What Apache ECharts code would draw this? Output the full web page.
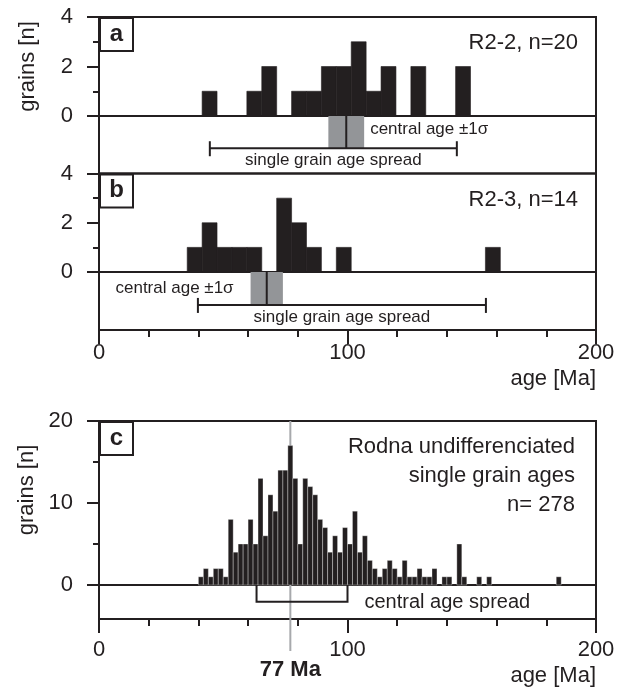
<!DOCTYPE html>
<html>
<head>
<meta charset="utf-8">
<script src="https://cdn.jsdelivr.net/npm/echarts@6/dist/echarts.min.js"></script>
<style>
html, body { margin: 0; padding: 0; background: #fff; }
#main { width: 624px; height: 689px; }
</style>
</head>
<body>
<div id="main"></div>
<script>
// panel a: R2-2, 6 Ma bins (bin start, grains)
const aBinStart = [41.5, 59.5, 65.5, 77.5, 83.5, 89.5, 95.5, 101.5, 107.5, 113.5, 125.5, 143.5]
const aCount = [1, 1, 2, 1, 1, 2, 2, 3, 1, 2, 2, 2]
const aCentral = [99.5, 7.2]      // central age, 1 sigma
const aSpread = [44.6, 144]

// panel b: R2-3
const bBinStart = [35.5, 41.5, 47.5, 53.5, 59.5, 71.5, 77.5, 83.5, 95.5, 155.5]
const bCount = [1, 2, 1, 1, 1, 3, 2, 1, 1, 1]
const bCentral = [67.5, 6.5]
const bSpread = [39.8, 155.7]

// panel c: Rodna undifferenciated, 2 Ma bins starting at 40 Ma
const cFirstBin = 40
const cBinWidth = 2
const cCount = [
  1, 2, 1, 2, 2, 1, 8, 4, 5, 5, 8, 5, 13, 6, 11, 9, 14, 14,
  17, 13, 5, 13, 12, 11, 8, 7, 4, 6, 4, 7, 5, 9, 4, 6, 3, 2,
  1, 2, 3, 2, 1, 3, 1, 1, 2, 1, 1, 2, 0, 1, 1, 0, 5, 1,
  0, 0, 1, 0, 1, 0, 0, 0, 0, 0, 0, 0, 0, 0, 0, 0, 0, 0, 1
]
const cCentral = 77
const cSpread = [63.4, 100]

// ticks
const xTicks = [0, 100, 200]
const abYTicks = [0, 2, 4]
const cYTicks = [0, 10, 20]

const ink = '#231f20'
const grey = '#939598'
const font = '"Liberation Sans", Arial, sans-serif'

const chart = echarts.init(document.getElementById('main'))

// grid layout: histogram part + annotation part for each panel
const gridBoxes = [
  { top: 17, height: 99 },
  { top: 116, height: 57.5 },
  { top: 173.5, height: 98.5 },
  { top: 272, height: 58 },
  { top: 421, height: 164 },
  { top: 585, height: 34 }
]
const grid = gridBoxes.map(g => ({
  ...g, left: 99, right: 28, show: true,
  borderColor: ink, borderWidth: 2, backgroundColor: 'transparent'
}))

const xAxis = grid.map((g, i) => {
  const shown = i === 3 || i === 5
  return {
    type: 'value', gridIndex: i,
    min: xTicks[0], max: xTicks[xTicks.length - 1], interval: xTicks[1] - xTicks[0],
    show: shown,
    axisLine: { show: true, onZero: false, lineStyle: { color: ink, width: 2 } },
    axisTick: { show: true, length: 14, lineStyle: { color: ink, width: 2 } },
    minorTick: { show: true, splitNumber: 5, length: 7, lineStyle: { color: ink, width: 2 } },
    splitLine: { show: false },
    axisLabel: { fontSize: 22, color: ink, margin: i === 3 ? 12 : 20, fontFamily: font },
    name: shown ? 'age [Ma]' : '',
    nameLocation: 'end', nameGap: 0,
    nameTextStyle: {
      fontSize: 22, color: ink, fontFamily: font, align: 'right', verticalAlign: 'top',
      padding: [i === 3 ? 38 : 46, 0, 0, 0]
    }
  }
})

function countAxis(gi, ticks) {
  return {
    type: 'value', gridIndex: gi,
    min: ticks[0], max: ticks[ticks.length - 1], interval: ticks[1] - ticks[0],
    axisLine: { show: true, lineStyle: { color: ink, width: 2 } },
    axisTick: { show: true, length: 12, lineStyle: { color: ink, width: 2 } },
    minorTick: { show: true, splitNumber: 2, length: 6, lineStyle: { color: ink, width: 2 } },
    splitLine: { show: false },
    axisLabel: { fontSize: 22, color: ink, margin: 26, fontFamily: font },
    name: gi === 2 ? '' : 'grains [n]',
    nameLocation: 'middle', nameGap: 60, nameRotate: 90,
    nameTextStyle: { fontSize: 22, color: ink, fontFamily: font, padding: gi === 4 ? [0, 0, 0, 26] : 0 }
  }
}
const yAxis = [
  countAxis(0, abYTicks),
  { type: 'value', gridIndex: 1, min: -2.32, max: 0, show: false },
  countAxis(2, abYTicks),
  { type: 'value', gridIndex: 3, min: -2.36, max: 0, show: false },
  countAxis(4, cYTicks),
  { type: 'value', gridIndex: 5, min: -4.15, max: 0, show: false }
]

// histogram bars drawn through the axis scales
function histSeries(gi, starts, counts, width, style) {
  const data = []
  starts.forEach((s, i) => { if (counts[i] > 0) data.push([s, s + width, counts[i]]) })
  return {
    type: 'custom', xAxisIndex: gi, yAxisIndex: gi, z: 3, data,
    renderItem: (params, api) => {
      const p0 = api.coord([api.value(0), api.value(2)])
      const p1 = api.coord([api.value(1), 0])
      return { type: 'rect', shape: { x: p0[0], y: p0[1], width: p1[0] - p0[0], height: p1[1] - p0[1] }, style }
    }
  }
}

// central age band + single grain age spread (panels a, b)
function centralSeries(gi, central, spread, lineY, labelSide) {
  return {
    type: 'custom', xAxisIndex: gi, yAxisIndex: gi, z: 3,
    data: [[central[0], central[1], spread[0], spread[1]]],
    renderItem: (params, api) => {
      const c = api.value(0), s = api.value(1)
      const top = api.coord([c - s, 0])
      const bot = api.coord([c + s, lineY])
      const mid = api.coord([c, 0])
      const l = api.coord([api.value(2), lineY])
      const r = api.coord([api.value(3), lineY])
      const ls = { stroke: ink, lineWidth: 2 }
      const tf = '17px ' + font
      return {
        type: 'group', children: [
          { type: 'rect', shape: { x: top[0], y: top[1], width: bot[0] - top[0], height: bot[1] - top[1] }, style: { fill: grey } },
          { type: 'line', shape: { x1: mid[0], y1: top[1], x2: mid[0], y2: bot[1] }, style: ls },
          { type: 'line', shape: { x1: l[0], y1: l[1], x2: r[0], y2: r[1] }, style: ls },
          { type: 'line', shape: { x1: l[0], y1: l[1] - 7, x2: l[0], y2: l[1] + 8 }, style: ls },
          { type: 'line', shape: { x1: r[0], y1: r[1] - 7, x2: r[0], y2: r[1] + 8 }, style: ls },
          {
            type: 'text',
            x: labelSide === 'right' ? bot[0] + 6 : top[0] - 17,
            y: top[1] + (labelSide === 'right' ? 13 : 16),
            style: { text: 'central age \u00b11\u03c3', font: tf, fill: ink, align: labelSide === 'right' ? 'left' : 'right', verticalAlign: 'middle' }
          },
          {
            type: 'text', x: (l[0] + r[0]) / 2, y: l[1] + 12,
            style: { text: 'single grain age spread', font: tf, fill: ink, align: 'center', verticalAlign: 'middle' }
          }
        ]
      }
    }
  }
}

// central age spread bracket (panel c)
const cSpreadSeries = {
  type: 'custom', xAxisIndex: 5, yAxisIndex: 5, z: 3,
  data: [[cSpread[0], cSpread[1]]],
  renderItem: (params, api) => {
    const a0 = api.coord([api.value(0), 0])
    const a1 = api.coord([api.value(0), -2.04])
    const b1 = api.coord([api.value(1), -2.04])
    const b0 = api.coord([api.value(1), 0])
    return {
      type: 'group', children: [
        { type: 'polyline', shape: { points: [a0, a1, b1, b0] }, style: { stroke: ink, lineWidth: 2, fill: null } },
        { type: 'text', x: b1[0] + 17, y: b1[1] + 1, style: { text: 'central age spread', font: '20px ' + font, fill: ink, align: 'left', verticalAlign: 'middle' } }
      ]
    }
  }
}

// 77 Ma central age line (panel c)
const cCentralSeries = {
  type: 'custom', xAxisIndex: 4, yAxisIndex: 4, z: 2, clip: false,
  data: [[cCentral]],
  renderItem: (params, api) => {
    const t = api.coord([api.value(0), cYTicks[cYTicks.length - 1]])
    const z = api.coord([api.value(0), 0])
    return {
      type: 'group', children: [
        { type: 'line', shape: { x1: t[0], y1: t[1], x2: t[0], y2: z[1] + 66 }, style: { stroke: '#a7a9ac', lineWidth: 2 } },
        { type: 'text', x: t[0], y: z[1] + 85, style: { text: cCentral + ' Ma', font: 'bold 22px ' + font, fill: ink, align: 'center', verticalAlign: 'middle' } }
      ]
    }
  }
}

const cBinStart = cCount.map((v, i) => cFirstBin + i * cBinWidth)

function panelBox(letter, top) {
  return {
    type: 'group', left: 99, top: top, children: [
      { type: 'rect', shape: { x: 0, y: 0, width: 33, height: 33 }, style: { fill: '#fff', stroke: ink, lineWidth: 2 } },
      { type: 'text', x: 16.5, y: 16, style: { text: letter, font: 'bold 24px ' + font, fill: ink, align: 'center', verticalAlign: 'middle' } }
    ]
  }
}

function rightText(text, x, y) {
  return { type: 'text', x: x, y: y, style: { text, font: '22px ' + font, fill: ink, align: 'right', verticalAlign: 'middle' } }
}

const solid = { fill: ink, stroke: ink, lineWidth: 0.6 }

const option = {
  backgroundColor: '#ffffff',
  animation: false,
  grid, xAxis, yAxis,
  series: [
    histSeries(0, aBinStart, aCount, 6, solid),
    centralSeries(1, aCentral, aSpread, -1.3, 'right'),
    histSeries(2, bBinStart, bCount, 6, solid),
    centralSeries(3, bCentral, bSpread, -1.34, 'left'),
    cCentralSeries,
    histSeries(4, cBinStart, cCount, cBinWidth, { fill: ink, stroke: 'rgba(255,255,255,0.55)', lineWidth: 0.6 }),
    cSpreadSeries
  ],
  graphic: [
    panelBox('a', 17), panelBox('b', 173.5), panelBox('c', 421),
    rightText('R2-2, n=20', 578, 43),
    rightText('R2-3, n=14', 578, 200),
    rightText('Rodna undifferenciated', 575, 447),
    rightText('single grain ages', 575, 476),
    rightText('n= 278', 575, 505)
  ]
}

chart.setOption(option)
</script>
</body>
</html>
